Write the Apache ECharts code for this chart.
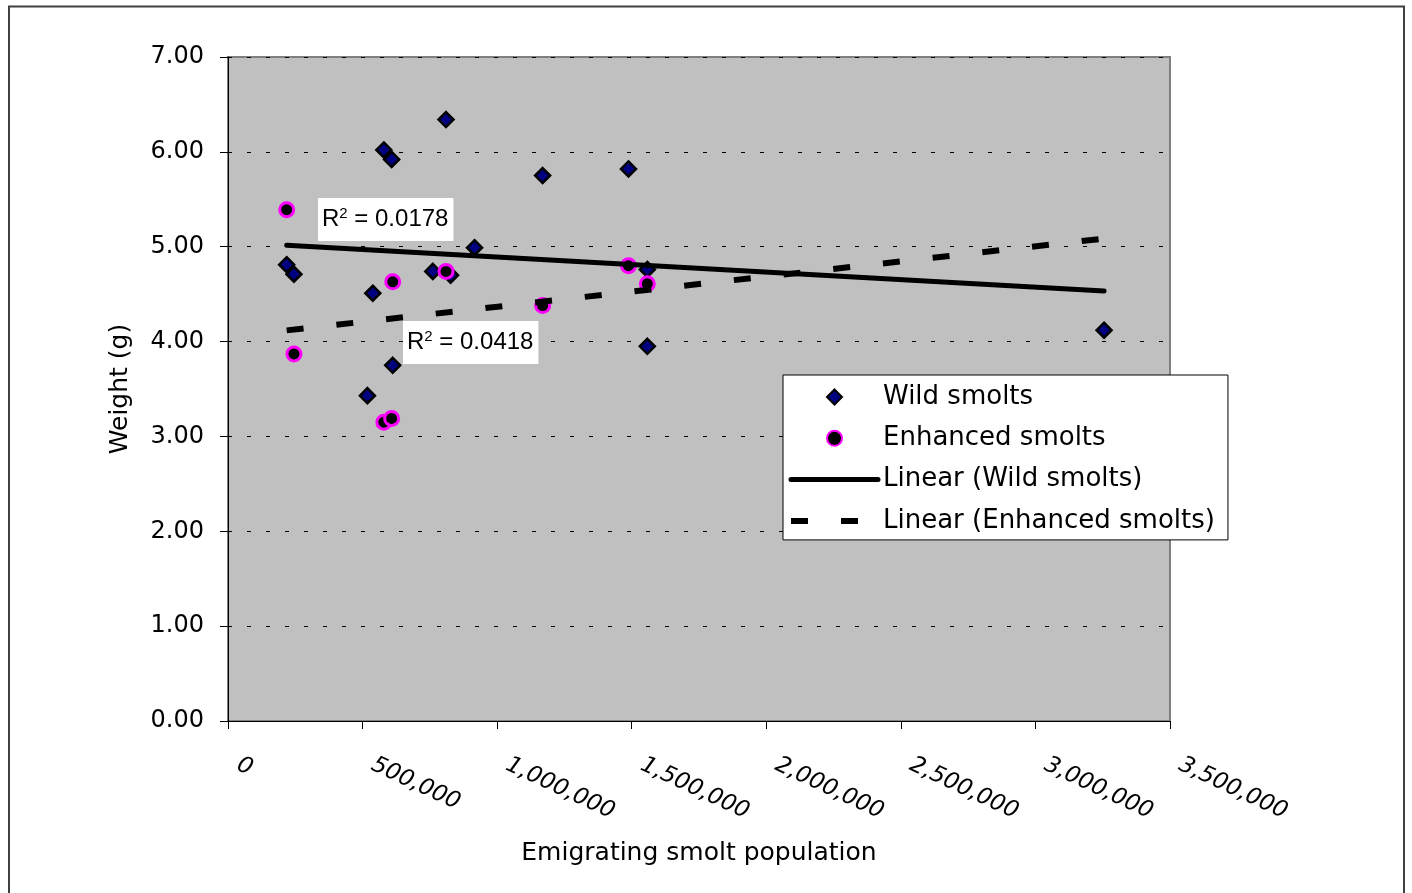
<!DOCTYPE html>
<html><head><meta charset="utf-8">
<script src="https://cdn.jsdelivr.net/npm/echarts@6/dist/echarts.min.js"></script>
<style>html,body{margin:0;padding:0;background:#fff}#c{width:1412px;height:893px}</style>
</head><body><div id="c"></div>
<script>
// Emigrating smolt population (x) shared by both series, one entry per year
const population = [218000, 245000, 518000, 538000, 579000, 608000, 612000, 761000, 810000, 827000, 916000, 1169000, 1488000, 1558000, 1558000, 3255000];
const wildWeight = [4.81, 4.71, 3.43, 4.51, 6.02, 5.92, 3.75, 4.74, 6.34, 4.70, 4.99, 5.75, 5.82, 4.76, 3.95, 4.12];
const enhancedWeight = [5.39, 3.87, null, null, 3.15, 3.19, 4.63, null, 4.74, null, null, 4.38, 4.80, 4.61, null, null];
const seriesNames = ['Wild smolts', 'Enhanced smolts', 'Linear (Wild smolts)', 'Linear (Enhanced smolts)'];
const rSquared = ['0.0178', '0.0418'];
const xTitle = 'Emigrating smolt population';
const yTitle = 'Weight (g)';

function pairs(ys) {
  const out = [];
  for (let i = 0; i < population.length; i++) if (ys[i] != null) out.push([population[i], ys[i]]);
  return out;
}
function linearTrend(pts) {
  const n = pts.length;
  let mx = 0, my = 0;
  pts.forEach(p => { mx += p[0]; my += p[1]; });
  mx /= n; my /= n;
  let sxy = 0, sxx = 0;
  pts.forEach(p => { sxy += (p[0] - mx) * (p[1] - my); sxx += (p[0] - mx) * (p[0] - mx); });
  const b = sxy / sxx, a = my - b * mx;
  const x0 = Math.min(...population), x1 = Math.max(...population);
  return [[x0, a + b * x0], [x1, a + b * x1]];
}
const wildPts = pairs(wildWeight);
const enhPts = pairs(enhancedWeight);

const FONT = 'DejaVu Sans';
const DASH = [17, 33];
const DIAMOND = 'path://M10,0L20,10L10,20L0,10Z';
const chart = echarts.init(document.getElementById('c'), null, {renderer: 'canvas'});
function fmtNum(v) { return String(v).replace(/\B(?=(\d{3})+(?!\d))/g, ','); }

chart.setOption({
  animation: false,
  backgroundColor: '#ffffff',
  grid: {left: 228, right: 242, top: 57, bottom: 172, containLabel: false, outerBoundsMode: 'none',
    show: true, backgroundColor: '#c0c0c0', borderColor: '#808080', borderWidth: 2},
  xAxis: {
    type: 'value', min: 0, max: 3500000, interval: 500000,
    name: xTitle, nameLocation: 'middle', nameGap: 120,
    nameTextStyle: {fontFamily: FONT, fontSize: 25, color: '#000'},
    axisLine: {show: true, onZero: false, lineStyle: {color: '#000', width: 1}},
    axisTick: {show: true, inside: false, length: 8, lineStyle: {color: '#000'}},
    splitLine: {show: false},
    axisLabel: {show: true, rotate: -25, margin: 38, fontFamily: FONT, fontStyle: 'italic', fontSize: 23,
      color: '#000', padding: [0, 0, 0, 11], hideOverlap: false, showMinLabel: true, showMaxLabel: true,
      formatter: fmtNum}
  },
  yAxis: {
    type: 'value', min: 0, max: 7, interval: 1,
    name: yTitle, nameLocation: 'middle', nameGap: 95,
    nameTextStyle: {fontFamily: FONT, fontSize: 25, color: '#000'},
    axisLine: {show: true, onZero: false, lineStyle: {color: '#000', width: 1}},
    axisTick: {show: true, inside: false, length: 8, lineStyle: {color: '#000'}},
    splitLine: {show: true, lineStyle: {color: '#000', width: 1, type: [4, 15]}},
    axisLabel: {margin: 24, fontFamily: FONT, fontSize: 24, color: '#000', formatter: v => v.toFixed(2)}
  },
  legend: {
    orient: 'vertical', left: 783, top: 375,
    padding: [8, 13, 5, 5], itemGap: 13.3, itemWidth: 87, itemHeight: 15,
    symbolKeepAspect: true,
    backgroundColor: '#ffffff', borderColor: '#000', borderWidth: 1, borderRadius: 0,
    textStyle: {fontFamily: FONT, fontSize: 26, color: '#000', lineHeight: 28},
    data: [
      {name: seriesNames[0], icon: DIAMOND},
      {name: seriesNames[1], icon: 'circle'},
      {name: seriesNames[2], itemStyle: {opacity: 0}, lineStyle: {width: 5, type: 'solid', cap: 'round'}},
      {name: seriesNames[3], itemStyle: {opacity: 0}, lineStyle: {width: 6, type: DASH, cap: 'butt'}}
    ]
  },
  series: [
    {name: seriesNames[0], type: 'scatter', data: wildPts, symbol: 'diamond', symbolSize: 15, symbolKeepAspect: true, z: 2,
      itemStyle: {color: '#000080', borderColor: '#000', borderWidth: 2.5, opacity: 1}},
    {name: seriesNames[1], type: 'scatter', data: enhPts, symbol: 'circle', symbolSize: 14, z: 3,
      itemStyle: {color: '#000', borderColor: '#ff00ff', borderWidth: 3, opacity: 1}},
    {name: seriesNames[2], type: 'line', data: linearTrend(wildPts), symbol: 'none', z: 4,
      lineStyle: {color: '#000', width: 5, cap: 'round'}, itemStyle: {color: '#000'}},
    {name: seriesNames[3], type: 'line', data: linearTrend(enhPts), symbol: 'none', z: 4,
      lineStyle: {color: '#000', width: 6, type: DASH, cap: 'butt'}, itemStyle: {color: '#000'}}
  ],
  graphic: [
    {type: 'rect', z: 200, silent: true, shape: {x: 9, y: 6.5, width: 1395, height: 950},
      style: {fill: 'none', stroke: '#404040', lineWidth: 2}},
    {type: 'text', left: 318, top: 198, z: 100,
      style: {text: '{r|R}{s|2}{r| = ' + rSquared[0] + '}', backgroundColor: '#ffffff', padding: [8, 5, 9, 4],
        rich: {r: {fontFamily: 'Liberation Sans', fontSize: 24, fill: '#000', lineHeight: 26},
               s: {fontFamily: 'Liberation Sans', fontSize: 15, fill: '#000', verticalAlign: 'top', lineHeight: 22}}}},
    {type: 'text', left: 403, top: 321, z: 100,
      style: {text: '{r|R}{s|2}{r| = ' + rSquared[1] + '}', backgroundColor: '#ffffff', padding: [8, 5, 9, 4],
        rich: {r: {fontFamily: 'Liberation Sans', fontSize: 24, fill: '#000', lineHeight: 26},
               s: {fontFamily: 'Liberation Sans', fontSize: 15, fill: '#000', verticalAlign: 'top', lineHeight: 22}}}}
  ]
});
</script></body></html>
